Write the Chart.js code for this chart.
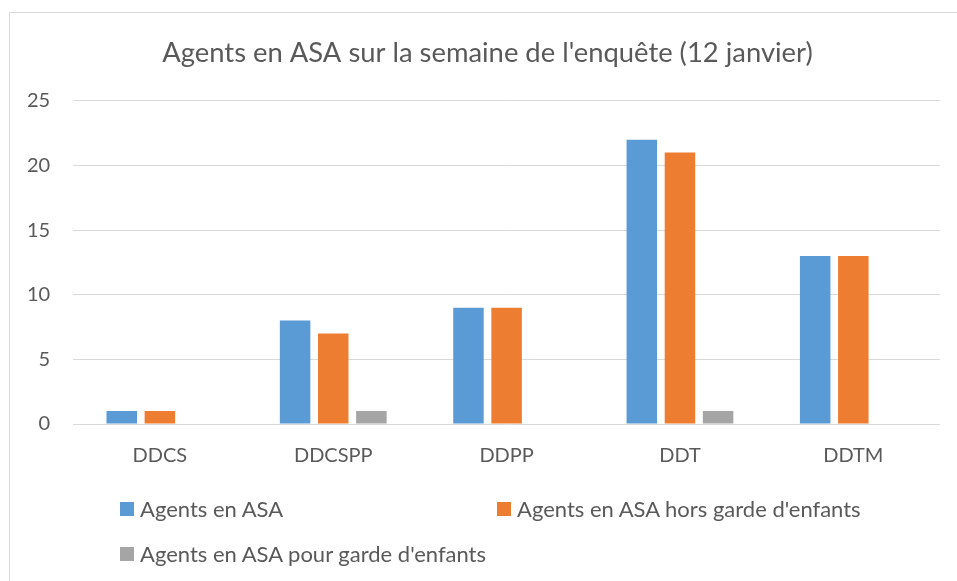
<!DOCTYPE html>
<html>
<head>
<meta charset="utf-8">
<script src="https://cdn.jsdelivr.net/npm/chart.js@4.4.1/dist/chart.umd.min.js"></script>
<style>
  html, body { margin: 0; padding: 0; background: #fff; overflow: hidden; }
  #frame {
    position: absolute; left: 9px; top: 12px; width: 980px; height: 620px;
    border: 1px solid #d9d9d9; box-sizing: border-box;
  }
  #wrap { position: absolute; left: 0; top: 0; width: 957px; height: 581px; }
  #legend {
    position: absolute; left: 0; top: 0; width: 957px; height: 581px;
    font-family: Lato, sans-serif; font-size: 22px; color: #595959;
    pointer-events: none;
  }
  .item { position: absolute; display: flex; align-items: center; white-space: nowrap; height: 22px; line-height: 22px; }
  .box { width: 14px; height: 14px; margin-right: 6px; flex: none; }
</style>
</head>
<body>
<div id="frame"></div>
<div id="wrap"><canvas id="chart" width="957" height="581"></canvas></div>
<div id="legend"></div>
<script>
const titleText = "Agents en ASA sur la semaine de l'enquête (12 janvier)";
const categories = ["DDCS", "DDCSPP", "DDPP", "DDT", "DDTM"];
const seriesNames = [
  "Agents en ASA",
  "Agents en ASA hors garde d'enfants",
  "Agents en ASA pour garde d'enfants",
];
const agentsAsa = [1, 8, 9, 22, 13];
const horsGarde = [1, 7, 9, 21, 13];
const pourGarde = [0, 1, 0, 1, 0];
const colors = ["#5b9bd5", "#ed7d31", "#a5a5a5"];
const yTicks = [0, 5, 10, 15, 20, 25];

const textColor = "#595959";
const fontFamily = "Lato, sans-serif";

const data = {
  labels: categories,
  datasets: [agentsAsa, horsGarde, pourGarde].map(function (values, i) {
    return {
      label: seriesNames[i],
      data: values,
      backgroundColor: colors[i],
      borderWidth: 0,
      categoryPercentage: 0.66,
      barPercentage: 0.8,
    };
  }),
};

// the title is centred on the whole frame, not on the plot
const shiftTitle = {
  id: "shiftTitle",
  afterLayout(chart) {
    if (chart.titleBlock) chart.titleBlock.left += 31;
  },
};

const config = {
  type: "bar",
  data: data,
  plugins: [shiftTitle],
  options: {
    responsive: false,
    animation: false,
    layout: {
      padding: { top: 10, left: 4, right: 17, bottom: 94 },
    },
    plugins: {
      legend: { display: false },
      tooltip: { enabled: false },
      title: {
        display: true,
        text: titleText,
        color: textColor,
        font: { family: fontFamily, size: 27.4, weight: "normal" },
        padding: { top: 27, bottom: 31 },
      },
    },
    scales: {
      x: {
        grid: { display: false, drawTicks: false },
        border: { display: false },
        ticks: {
          color: textColor,
          font: { family: fontFamily, size: 20 },
          padding: 19.5,
        },
      },
      y: {
        min: 0,
        max: 25,
        afterBuildTicks: function (axis) {
          axis.ticks = yTicks.map(function (v) { return { value: v }; });
        },
        grid: { color: "#d9d9d9", lineWidth: 1, drawTicks: false },
        border: { display: false },
        ticks: {
          color: textColor,
          font: { family: fontFamily, size: 20 },
          padding: 23,
        },
      },
    },
  },
};

const chart = new Chart(document.getElementById("chart"), config);

// legend laid out like the original: two columns, two rows
const legendPos = [
  { left: 120, top: 498 },
  { left: 497, top: 498 },
  { left: 120, top: 543 },
];
const legend = document.getElementById("legend");
chart.data.datasets.forEach(function (ds, i) {
  const item = document.createElement("div");
  item.className = "item";
  item.style.left = legendPos[i].left + "px";
  item.style.top = legendPos[i].top + "px";
  item.innerHTML = '<span class="box" style="background:' + ds.backgroundColor + '"></span>' + ds.label;
  legend.appendChild(item);
});
</script>
</body>
</html>
